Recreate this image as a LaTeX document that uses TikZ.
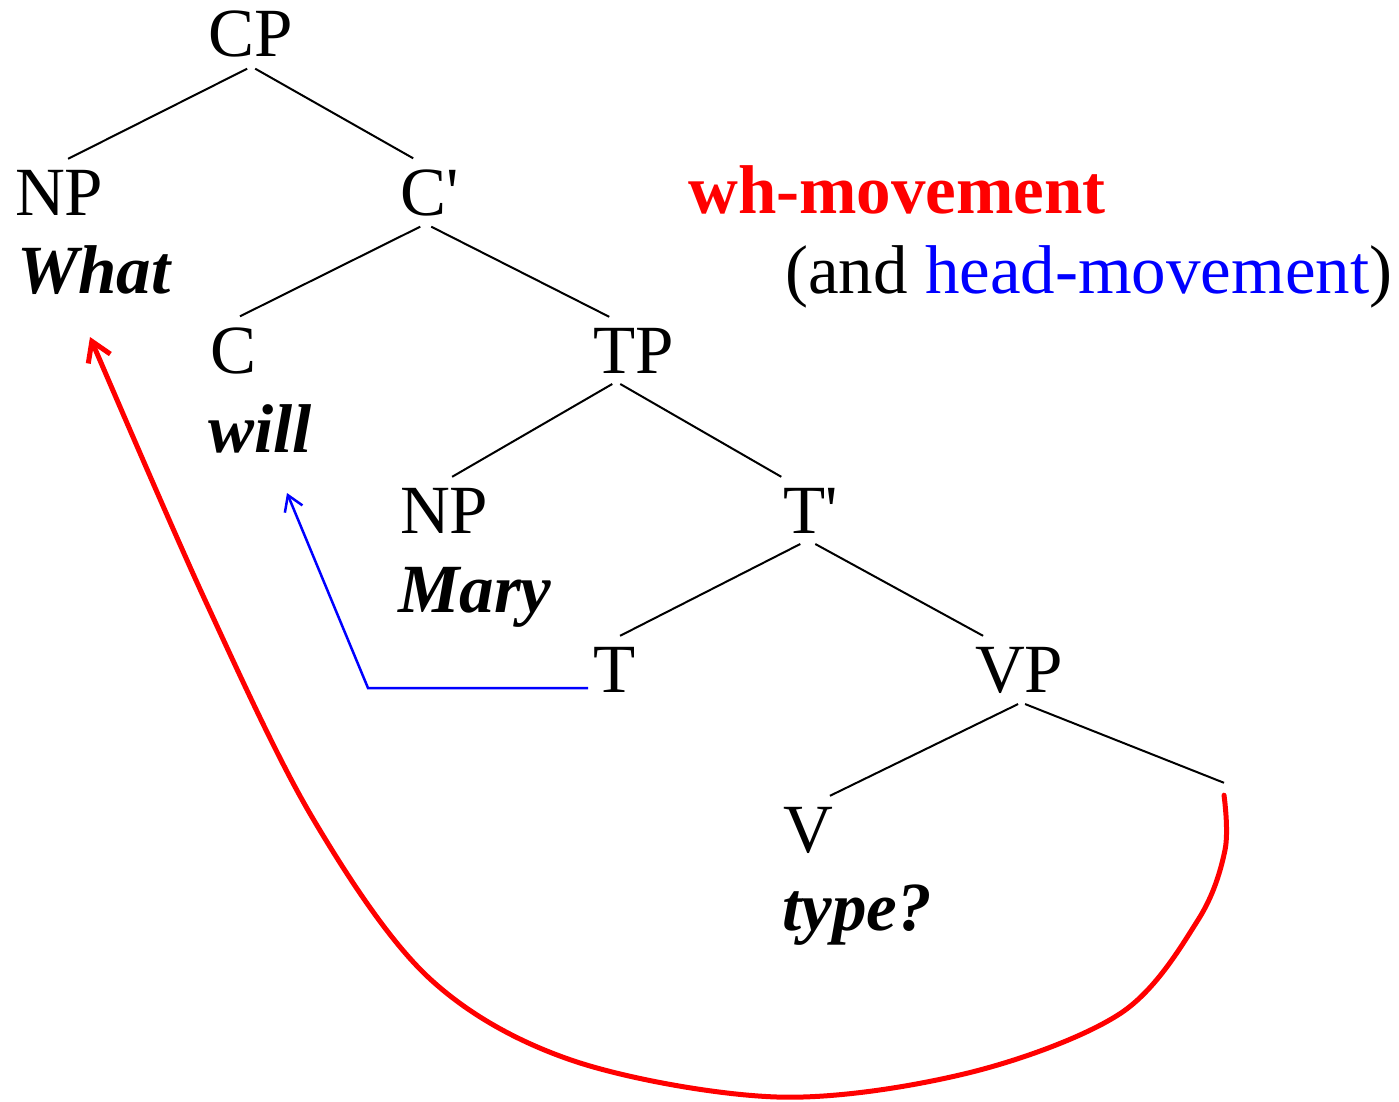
\documentclass[tikz,border=0pt]{standalone}
\usepackage{fontspec}
\setmainfont{Liberation Serif}
\usetikzlibrary{arrows.meta, calc}
\definecolor{whred}{RGB}{255,0,0}
\definecolor{headblue}{RGB}{0,0,255}

\begin{document}
\begin{tikzpicture}[
  x=1pt, y=-1pt,
  font=\fontsize{69}{79}\selectfont,
  cat/.style={anchor=base west, inner sep=0pt, outer xsep=0pt, outer ysep=11pt},
  word/.style={anchor=base west, inner sep=0pt, font=\fontsize{69}{79}\selectfont\bfseries\itshape},
  branch/.style={line width=2pt},
  whmove/.style={draw=whred, line width=5pt, line cap=round, -{Straight Barb[length=19pt, width=24pt]}},
  headmove/.style={draw=headblue, line width=2.5pt, -{Straight Barb[length=15pt, width=19pt]}}
]
  \useasboundingbox (0,0) rectangle (1399,1102);

  % tree
  \node[cat] (cp) at (208,57) {CP};
  \node[cat] (np1) at (15,215) {NP};
  \node[word] (what) at (17,293) {What};
  \node[cat] (cbar) at (400,215) {C\textquotesingle};
  \node[cat] (c) at (210,373) {C};
  \node[word] (will) at (208,452) {will};
  \node[cat] (tp) at (593,373) {TP};
  \node[cat] (np2) at (400,533) {NP};
  \node[word] (mary) at (398,612) {Mary};
  \node[cat] (tbar) at (783,533) {T\textquotesingle};
  \node[cat] (t) at (593,692) {T};
  \node[cat] (vp) at (975,692) {VP};
  \node[cat] (v) at (783,852) {V};
  \node[word] (type) at (782,930) {type?};
  \node[inner sep=0pt, minimum height=12pt] (trace) at (1224,789) {};

  \draw[branch] ([xshift=-3pt]cp.south) -- ([xshift=9pt]np1.north);
  \draw[branch] ([xshift=5pt]cp.south) -- ([xshift=-16pt]cbar.north);
  \draw[branch] ([xshift=-9pt]cbar.south) -- ([xshift=7pt]c.north);
  \draw[branch] ([xshift=2pt]cbar.south) -- ([xshift=-24pt]tp.north);
  \draw[branch] ([xshift=-21pt]tp.south) -- ([xshift=8pt]np2.north);
  \draw[branch] ([xshift=-13pt]tp.south) -- ([xshift=-29pt]tbar.north);
  \draw[branch] ([xshift=-10pt]tbar.south) -- ([xshift=6pt]t.north);
  \draw[branch] ([xshift=5pt]tbar.south) -- ([xshift=-36pt]vp.north);
  \draw[branch] ([xshift=-1pt]vp.south) -- ([xshift=22pt]v.north);
  \draw[branch] ([xshift=6pt]vp.south) -- (trace.north);

  % labels
  \node[anchor=base west, inner sep=0pt, text=whred, font=\fontsize{69}{79}\selectfont\bfseries] (whlabel) at (688,213) {wh-movement};
  \node[anchor=base west, inner sep=0pt] (headlabel) at (785,293) {(and \textcolor{headblue}{head-movement})};

  % movement arrows
  \coordinate (headbend) at (368,688);
  \coordinate (headtip) at (287,493);
  \draw[headmove] ([shift={(-5pt,4pt)}]t.base west) -- (headbend) -- (headtip);

  \coordinate (whtip) at (90,337);
  \draw[whmove] plot[smooth, tension=0.55] coordinates {(trace.south) (1225,850) (1198,920) (1121,1013) (968,1073) (777,1097) (571,1060) (428,977) (312,817) (205,600) (whtip)};
\end{tikzpicture}
\end{document}
